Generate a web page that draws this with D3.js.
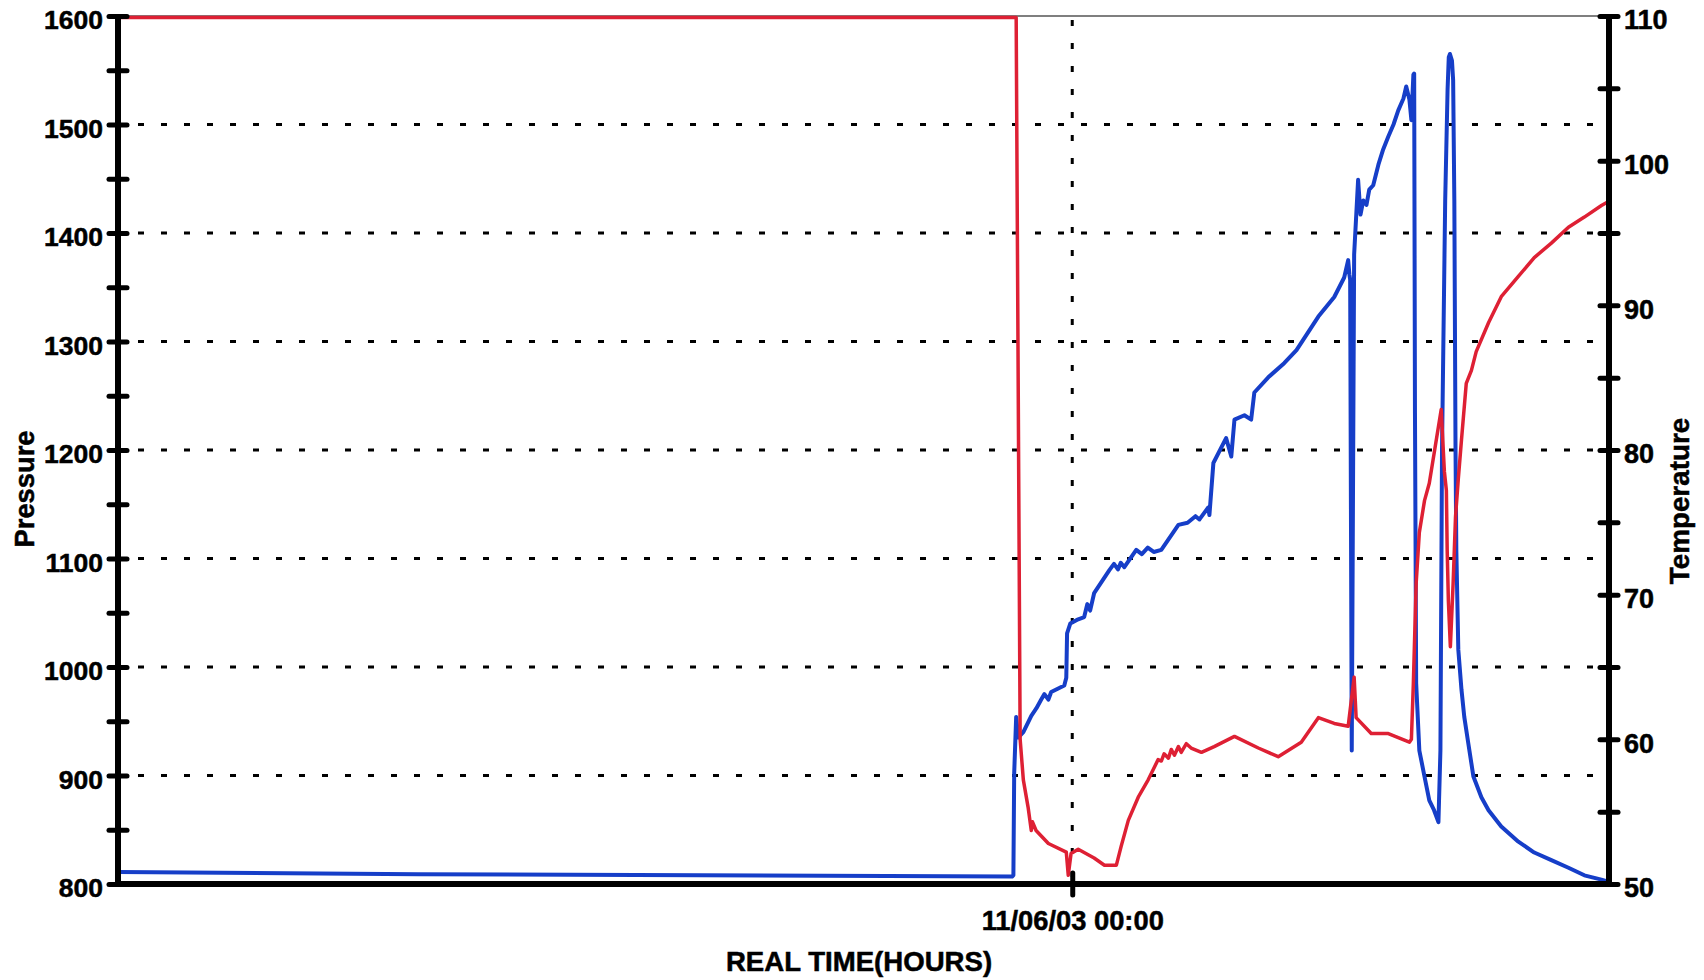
<html>
  <head>
    <meta charset="utf-8">
    <title>Pressure / Temperature</title>
    <style>
    body{
      margin: 0;
      background-color: #fff;
    }
    text{
      font-family: "Liberation Sans", Arial, sans-serif;
      font-weight: bold;
      stroke: #000;
      stroke-width: 0.5;
    }
    </style>
    <script src="https://d3js.org/d3.v7.min.js"></script>
  </head>
  <body>
    <div id="container"></div>
    <script>
    //size of svg chart area
    const width = 1704,
          height = 980;
    const margin = {top: 16, right: 95, bottom: 96, left: 118};

    //blue series: hours from 11/06/03 00:00, and pressure
    var pressureHours = [-24, -16.45, -1.51, -1.48, -1.46, -1.41, -1.36, -1.23, -1.03, -0.9, -0.78, -0.7, -0.6, -0.53, -0.2, -0.15, -0.13, -0.05, 0.15, 0.3, 0.38, 0.45, 0.55, 0.93, 1.05, 1.15, 1.22, 1.31, 1.61, 1.75, 1.9, 2.05, 2.24, 2.67, 2.9, 3.1, 3.2, 3.32, 3.42, 3.45, 3.55, 3.87, 4.0, 4.08, 4.33, 4.5, 4.58, 4.93, 5.33, 5.64, 6.19, 6.59, 6.84, 6.94, 6.97, 6.99, 7.03, 7.09, 7.19, 7.25, 7.32, 7.4, 7.47, 7.57, 7.7, 7.82, 7.95, 8.08, 8.2, 8.33, 8.4, 8.48, 8.53, 8.58, 8.6, 8.62, 8.65, 8.73, 8.86, 8.98, 9.1, 9.21, 9.26, 9.3, 9.38, 9.44, 9.47, 9.5, 9.55, 9.58, 9.61, 9.64, 9.66, 9.71, 9.79, 9.86, 9.96, 10.09, 10.29, 10.47, 10.79, 11.22, 11.62, 12.05, 12.48, 12.88, 13.31, 13.5];
    var pressure = [811, 809, 807, 808, 902, 954, 935, 940, 955, 962, 970, 975, 970, 977, 983, 990, 1031, 1040, 1044, 1046, 1058, 1052, 1068, 1089, 1095, 1090, 1096, 1092, 1108, 1104, 1110, 1106, 1108, 1131, 1133, 1139, 1136, 1142, 1147, 1140, 1188, 1211, 1194, 1228, 1232, 1228, 1253, 1267, 1280, 1292, 1323, 1341, 1359, 1375, 1362, 1357, 923, 1380, 1449, 1417, 1430, 1426, 1440, 1444, 1463, 1477, 1489, 1500, 1513, 1524, 1535, 1523, 1504, 1546, 1547, 1234, 985, 923, 899, 877, 868, 857, 923, 1200, 1430, 1532, 1562, 1565, 1559, 1541, 1430, 1200, 1108, 1016, 979, 954, 930, 899, 880, 868, 853, 839, 829, 822, 815, 808, 804, 802];

    //red series: hours and temperature
    var tempHours = [-24, -1.41, -1.31, -1.23, -1.11, -1.03, -1.0, -0.91, -0.6, -0.15, -0.1, -0.03, 0.15, 0.55, 0.81, 1.11, 1.23, 1.41, 1.66, 1.91, 2.16, 2.24, 2.31, 2.42, 2.49, 2.57, 2.67, 2.74, 2.87, 2.99, 3.25, 3.57, 4.08, 4.68, 5.18, 5.76, 6.19, 6.59, 6.94, 7.09, 7.14, 7.52, 7.95, 8.48, 8.53, 8.58, 8.65, 8.73, 8.86, 8.98, 9.28, 9.36, 9.41, 9.43, 9.46, 9.51, 9.58, 9.64, 9.71, 9.79, 9.91, 10.04, 10.16, 10.47, 10.79, 11.22, 11.62, 12.05, 12.48, 12.88, 13.31, 13.5];
    var temperature = [109.9, 109.9, 60.0, 57.2, 55.3, 53.7, 54.3, 53.7, 52.8, 52.2, 50.6, 52.1, 52.4, 51.8, 51.3, 51.3, 52.6, 54.4, 56.0, 57.2, 58.6, 58.5, 59.0, 58.7, 59.3, 58.9, 59.5, 59.1, 59.7, 59.4, 59.1, 59.5, 60.2, 59.4, 58.8, 59.8, 61.5, 61.1, 60.9, 64.3, 61.5, 60.4, 60.4, 59.8, 60.0, 63.9, 70.8, 74.3, 76.5, 77.7, 82.8, 78.5, 77.2, 73.1, 69.6, 66.4, 70.8, 75.4, 78.0, 80.7, 84.6, 85.5, 86.8, 88.8, 90.6, 92.0, 93.3, 94.3, 95.4, 96.1, 96.9, 97.2];

    //axis ticks
    var pressureTicks = d3.range(800, 1601, 50);
    var pressureGrid = [900, 1000, 1100, 1200, 1300, 1400, 1500];
    var tempTicks = d3.range(50, 111, 5);
    var midnight = new Date(2003, 10, 6, 0, 0);
    var timeStart = new Date(2003, 10, 5, 0, 0),
        timeEnd = new Date(2003, 10, 6, 13, 30);

    function toDate(h){
      return new Date(midnight.getTime() + h * 3600000);
    }

    var blueData = pressureHours.map(function(h, i) {return [toDate(h), pressure[i]];});
    var redData = tempHours.map(function(h, i) {return [toDate(h), temperature[i]];});

    var iw = width - margin.left - margin.right,
        ih = height - margin.top - margin.bottom;

    var x = d3.scaleTime().domain([timeStart, timeEnd]).range([0, iw]);
    var yP = d3.scaleLinear().domain([800, 1600]).range([ih, 0]);
    var yT = d3.scaleLinear().domain([50, 110]).range([ih, 0]);

    var svg = d3.select("#container")
      .append("svg")
      .attr("width", width)
      .attr("height", height)
      .style("display", "block");

    var g = svg.append("g")
      .attr("transform", "translate(" + margin.left + "," + margin.top + ")");

    //thin top border line
    g.append("line")
      .attr("x1", 0).attr("x2", iw)
      .attr("y1", 0).attr("y2", 0)
      .attr("stroke", "#555")
      .attr("stroke-width", 1.5);

    //dotted grid lines
    g.selectAll(".hgrid")
      .data(pressureGrid)
      .enter()
      .append("line")
      .attr("class", "hgrid")
      .attr("x1", 0).attr("x2", iw)
      .attr("y1", function(d) {return yP(d);})
      .attr("y2", function(d) {return yP(d);})
      .attr("stroke", "#000")
      .attr("stroke-width", 3)
      .attr("stroke-dasharray", "6,17")
      .attr("stroke-dashoffset", -20);

    g.append("line")
      .attr("x1", x(midnight)).attr("x2", x(midnight))
      .attr("y1", 0).attr("y2", ih)
      .attr("stroke", "#000")
      .attr("stroke-width", 3)
      .attr("stroke-dasharray", "6,17")
      .attr("stroke-dashoffset", -4);

    //data lines
    var linePressure = d3.line()
      .x(function(d) {return x(d[0]);})
      .y(function(d) {return yP(d[1]);});
    var lineTemp = d3.line()
      .x(function(d) {return x(d[0]);})
      .y(function(d) {return yT(d[1]);});

    g.append("path")
      .datum(blueData)
      .attr("d", linePressure)
      .attr("fill", "none")
      .attr("stroke", "rgb(22,62,200)")
      .attr("stroke-width", 4)
      .attr("stroke-linejoin", "round");

    g.append("path")
      .datum(redData)
      .attr("d", lineTemp)
      .attr("fill", "none")
      .attr("stroke", "rgb(222,32,52)")
      .attr("stroke-width", 3.5)
      .attr("stroke-linejoin", "round");

    //axes
    var leftAxis = d3.axisLeft(yP)
      .tickValues(pressureTicks)
      .tickSize(9)
      .tickPadding(6)
      .tickFormat(function(d) {return d % 100 === 0 ? d : "";});
    var rightAxis = d3.axisRight(yT)
      .tickValues(tempTicks)
      .tickSize(9)
      .tickPadding(6)
      .tickFormat(function(d) {return d % 10 === 0 ? d : "";});
    var bottomAxis = d3.axisBottom(x)
      .tickValues([midnight])
      .tickSize(11)
      .tickFormat(d3.timeFormat("%m/%d/%y %H:%M"));

    function styleAxis(sel){
      sel.select(".domain")
        .attr("stroke", "#000")
        .attr("stroke-width", 6);
      sel.selectAll(".tick line")
        .attr("stroke", "#000")
        .attr("stroke-width", 5)
        .attr("stroke-linecap", "round");
      sel.selectAll(".tick text")
        .attr("fill", "#000");
    }

    var gl = g.append("g").call(leftAxis);
    styleAxis(gl);
    gl.select(".domain").attr("d", "M0," + ih + "V0");
    gl.selectAll(".tick line").attr("x1", 9);
    gl.selectAll(".tick text")
      .attr("font-size", 26.5)
      .attr("dy", "0.48em");

    var gr = g.append("g").attr("transform", "translate(" + iw + ",0)").call(rightAxis);
    styleAxis(gr);
    gr.select(".domain").attr("d", "M0," + ih + "V0");
    gr.selectAll(".tick line").attr("x1", -9);
    gr.selectAll(".tick text")
      .attr("font-size", 27)
      .attr("dy", "0.48em");

    var gb = g.append("g").attr("transform", "translate(0," + ih + ")").call(bottomAxis);
    styleAxis(gb);
    gb.select(".domain").attr("d", "M0,0H" + iw);
    gb.selectAll(".tick line").attr("y1", -11);
    gb.selectAll(".tick text")
      .attr("font-size", 27.3)
      .attr("dy", null)
      .attr("y", 46);

    //axis titles
    svg.append("text")
      .attr("transform", "translate(34,489) rotate(-90)")
      .attr("text-anchor", "middle")
      .attr("font-size", 27.3)
      .text("Pressure");

    svg.append("text")
      .attr("transform", "translate(1689,501) rotate(-90)")
      .attr("text-anchor", "middle")
      .attr("font-size", 27.8)
      .text("Temperature");

    svg.append("text")
      .attr("x", 859)
      .attr("y", 971)
      .attr("text-anchor", "middle")
      .attr("font-size", 27.6)
      .text("REAL TIME(HOURS)");
    </script>
  </body>
</html>
